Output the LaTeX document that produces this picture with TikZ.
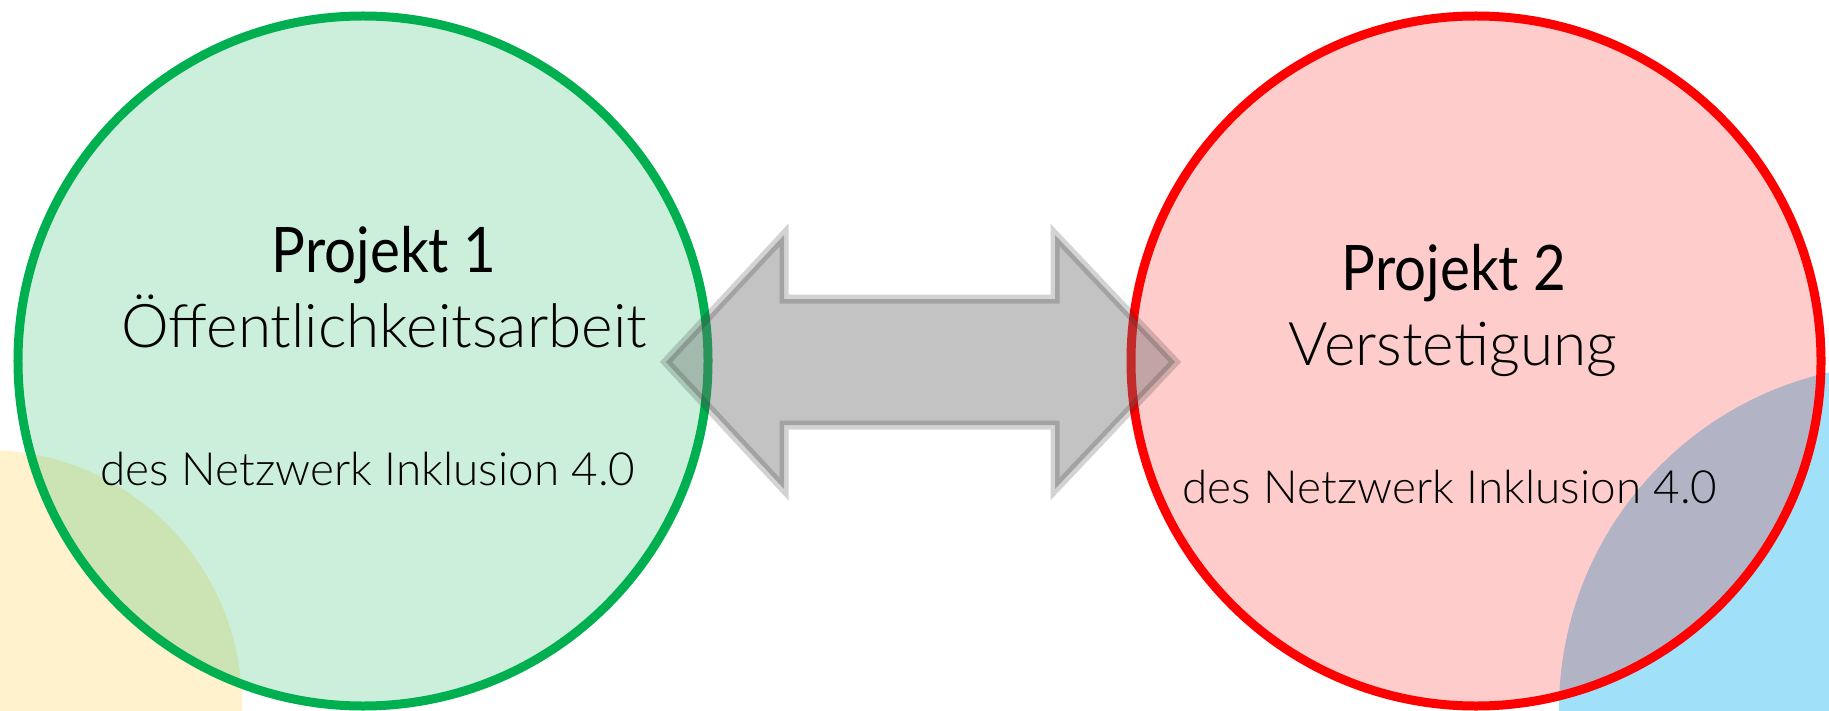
\documentclass[tikz,border=0pt]{standalone}
\usepackage{fontspec}
\usepackage{graphicx}
\newfontfamily\lightfont{Lato Light}
\newfontfamily\regfont{Lato}
\newcommand{\narrowtitle}[1]{\scalebox{0.9}[1]{#1}}
\definecolor{pgreen}{HTML}{00B050}
\definecolor{pred}{HTML}{FF0000}
\definecolor{pyellow}{HTML}{FFF2CC}
\definecolor{pblue}{RGB}{160,224,248}
\definecolor{agray}{RGB}{105,105,105}
\definecolor{astroke}{RGB}{35,35,35}
\tikzset{
  projcircle/.style={circle, minimum size=690bp, inner sep=0pt, line width=9bp, fill opacity=0.2, draw opacity=1},
  bigarrow/.style={fill=agray, fill opacity=0.4, draw=astroke, draw opacity=0.2, line width=9bp, line join=miter},
  titletext/.style={anchor=base, inner sep=0pt, text=black, font=\regfont\fontsize{63}{70}\selectfont},
  subtext/.style={anchor=base, inner sep=0pt, text=black, font=\lightfont\fontsize{60.5}{66}\selectfont},
  nettext/.style={anchor=base, inner sep=0pt, text=black, font=\lightfont\fontsize{46}{52}\selectfont}
}
\begin{document}
\begin{tikzpicture}[x=1bp,y=-1bp]
\useasboundingbox (0,0) rectangle (1829,711);
\clip (0,0) rectangle (1829,711);
\fill[white] (0,0) rectangle (1829,711);
% background decorations
\fill[pyellow] (-13,705) circle[radius=255bp];
\fill[pblue] (1905,710) circle[radius=346bp];
% project circles
\node[projcircle, draw=pgreen, fill=pgreen] (p1) at (363,361) {};
\node[projcircle, draw=pred, fill=pred] (p2) at (1476,361) {};
% double arrow between the circles
\draw[bigarrow] (666,362) -- (784,235) -- (784,299) -- (1055,299) -- (1055,235)
  -- (1175,362) -- (1055,489) -- (1055,425) -- (784,425) -- (784,489) -- cycle;
% texts
\node[titletext] (t1) at (384,272) {\narrowtitle{Projekt 1}};
\node[subtext] (s1) at (384,347) {Öffentlichkeitsarbeit};
\node[nettext] (n1) at (368,485) {des Netzwerk Inklusion 4.0};
\node[titletext] (t2) at (1454,290) {\narrowtitle{Projekt 2}};
\node[subtext] (s2) at (1453,365) {Verstetigung};
\node[nettext] (n2) at (1450,503) {des Netzwerk Inklusion 4.0};
\end{tikzpicture}
\end{document}
